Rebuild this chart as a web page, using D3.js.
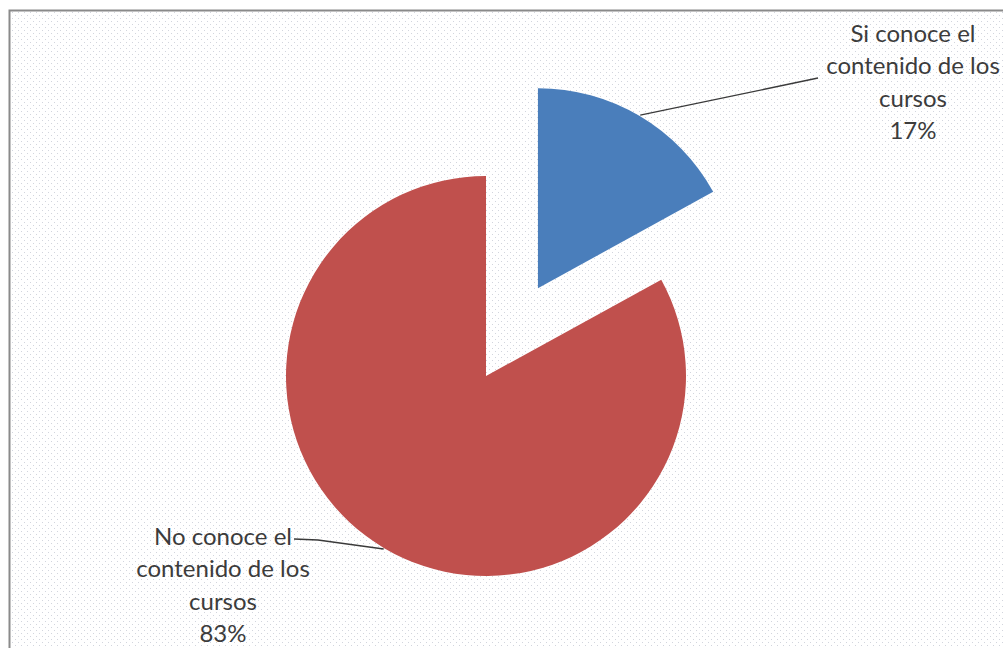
<!DOCTYPE html>
<html>
<head>
<meta charset="utf-8">
<script src="https://cdn.jsdelivr.net/npm/d3@7"></script>
<style>
  html, body { margin: 0; padding: 0; background: #ffffff; }
  svg { display: block; }
</style>
</head>
<body>
<svg id="chart" width="1003" height="648"></svg>
<script>
// Survey result: knowledge of the course content
const categories = ["Si conoce el contenido de los cursos", "No conoce el contenido de los cursos"];
const values = [17, 83];
const labelLines = [
  ["Si conoce el", "contenido de los", "cursos"],
  ["No conoce el", "contenido de los", "cursos"]
];
const colors = ["#4a7ebb", "#c0504d"];

const svg = d3.select("#chart");
const W = 1003, H = 648;

// dotted chart-area fill
const defs = svg.append("defs");
const pat = defs.append("pattern")
  .attr("id", "dots").attr("width", 6).attr("height", 6)
  .attr("patternUnits", "userSpaceOnUse");
pat.append("rect").attr("width", 6).attr("height", 6).attr("fill", "#ffffff");
pat.append("rect").attr("x", 0).attr("y", 0).attr("width", 1).attr("height", 1).attr("fill", "#d2d5dd");
pat.append("rect").attr("x", 3).attr("y", 3).attr("width", 1).attr("height", 1).attr("fill", "#d2d5dd");

svg.append("rect")
  .attr("x", 9.5).attr("y", 10.5).attr("width", W + 20).attr("height", H + 20)
  .attr("fill", "url(#dots)")
  .attr("stroke", "#8a8a8a").attr("stroke-width", 2);

// pie geometry
const cx = 486, cy = 376, R = 200, explode = 102;

const pie = d3.pie().sort(null).value(d => d.value).startAngle(0).endAngle(2 * Math.PI);
const data = categories.map((c, i) => ({ name: c, value: values[i], lines: labelLines[i], color: colors[i] }));
const arcs = pie(data);
const arc = d3.arc().innerRadius(0).outerRadius(R);

const total = d3.sum(values);
const fmt = v => Math.round(v / total * 100) + "%";

const g = svg.append("g").attr("transform", `translate(${cx},${cy})`);

// offset of each slice (first slice pulled out)
const offset = (d, i) => {
  const mid = (d.startAngle + d.endAngle) / 2;
  const k = i === 0 ? explode : 0;
  return [Math.sin(mid) * k, -Math.cos(mid) * k];
};

g.selectAll("path.slice")
  .data(arcs)
  .join("path")
  .attr("class", "slice")
  .attr("d", arc)
  .attr("fill", d => d.data.color)
  .attr("transform", (d, i) => { const o = offset(d, i); return `translate(${o[0]},${o[1]})`; });

// label placement (page coordinates)
const labelPos = [
  { x: 913, y: 42, end: [818, 78], bend: null },
  { x: 223, y: 545, end: [294, 539], bend: [318, 540] }
];
const lineGap = 32.3;

arcs.forEach((d, i) => {
  const o = offset(d, i);
  const mid = (d.startAngle + d.endAngle) / 2;
  const r0 = R + 1;
  const sx = cx + o[0] + Math.sin(mid) * r0;
  const sy = cy + o[1] - Math.cos(mid) * r0;
  const p = labelPos[i];
  const pts = [[sx, sy]];
  if (p.bend) pts.push(p.bend);
  pts.push(p.end);
  svg.append("path")
    .attr("d", d3.line()(pts))
    .attr("fill", "none")
    .attr("stroke", "#3a3a3a")
    .attr("stroke-width", 1.3);

  const t = svg.append("text")
    .attr("text-anchor", "middle")
    .attr("font-family", "Lato, 'Open Sans', sans-serif")
    .attr("font-size", 24)
    .attr("fill", "#3c3c3c");
  const lines = d.data.lines.concat([fmt(d.data.value)]);
  lines.forEach((s, j) => {
    t.append("tspan").attr("x", p.x).attr("y", p.y + j * lineGap).text(s);
  });
});
</script>
</body>
</html>
